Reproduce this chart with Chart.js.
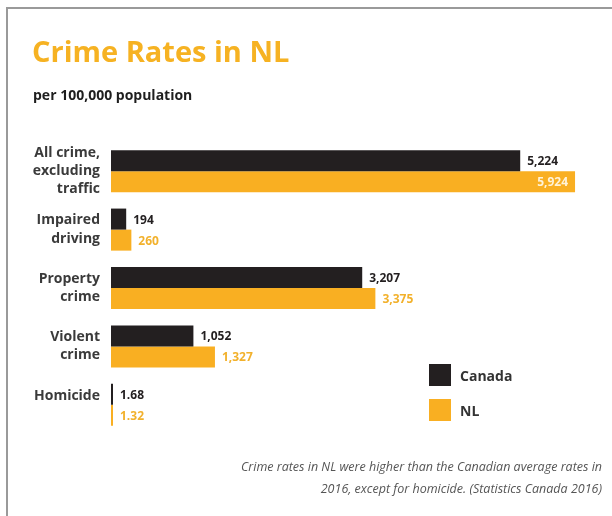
<!DOCTYPE html>
<html>
<head>
<meta charset="utf-8">
<script src="https://cdn.jsdelivr.net/npm/chart.js@4.4.1/dist/chart.umd.min.js"></script>
<style>
  body { margin: 0; background: #fff; font-family: "Open Sans", sans-serif; }
  #wrap { position: relative; width: 612px; height: 516px; overflow: hidden; }
  #frame { position: absolute; left: 6px; top: 7px; right: -4px; bottom: -4px;
           border-top: 2px solid #9a9a9a; border-left: 2px solid #9a9a9a; }
  canvas { position: absolute; left: 0; top: 0; }
  .title { position: absolute; left: 32px; top: 35px; font-size: 29px; line-height: 32px;
           font-weight: 700; color: #f6b222; }
  .subtitle { position: absolute; left: 33px; top: 86px; font-size: 14px; line-height: 18px;
              font-weight: 700; color: #1e1e1e; }
  .legend-item { position: absolute; left: 429px; display: flex; align-items: center;
                 font-size: 14px; font-weight: 700; color: #333; }
  .legend-item span.box { width: 22px; height: 22px; margin-right: 9px; }
  .note { position: absolute; right: 10px; top: 456px; text-align: right; font-size: 12.5px;
          line-height: 22px; font-style: italic; color: #555; }
</style>
</head>
<body>
<div id="wrap">
  <div id="frame"></div>
  <canvas id="crime-chart" width="612" height="516"></canvas>
  <div class="title">Crime Rates in NL</div>
  <div class="subtitle">per 100,000 population</div>
  <div id="legend"></div>
  <div class="note">Crime rates in NL were higher than the Canadian average rates in<br>2016, except for homicide. (Statistics Canada 2016)</div>
</div>
<script>
// Chart data
const categories = [
    ['All crime,', 'excluding', 'traffic'],
    ['Impaired', 'driving'],
    ['Property', 'crime'],
    ['Violent', 'crime'],
    ['Homicide', '']
];
const seriesNames = ['Canada', 'NL'];
const canadaRates = [5224, 194, 3207, 1052, 1.68];
const nlRates = [5924, 260, 3375, 1327, 1.32];

const colors = {
    Canada: '#231f20',
    NL: '#f9af22'
};
const labelColors = {
    Canada: '#231f20',
    NL: '#f2b12c'
};

// Value labels at the end of each bar
const valueLabels = {
    id: 'valueLabels',
    afterDatasetsDraw(chart) {
        const ctx = chart.ctx;
        chart.data.datasets.forEach((ds, i) => {
            const meta = chart.getDatasetMeta(i);
            meta.data.forEach((bar, j) => {
                const text = ds.data[j].toLocaleString('en-US');
                ctx.save();
                ctx.font = 'bold 12px "Open Sans", sans-serif';
                ctx.textBaseline = 'middle';
                const w = ctx.measureText(text).width;
                let x = bar.x + 7;
                let color = labelColors[ds.label];
                ctx.textAlign = 'left';
                // no room on the right: put it inside the bar
                if (x + w > chart.width - 4) {
                    x = bar.x - 7;
                    ctx.textAlign = 'right';
                    color = '#fff3d8';
                }
                ctx.fillStyle = color;
                ctx.fillText(text, x, bar.y + 1);
                ctx.restore();
            });
        });
    }
};

const ctx = document.getElementById('crime-chart').getContext('2d');
const crimeChart = new Chart(ctx, {
    type: 'bar',
    data: {
        labels: categories,
        datasets: [
            { label: seriesNames[0], data: canadaRates, backgroundColor: colors.Canada },
            { label: seriesNames[1], data: nlRates, backgroundColor: colors.NL }
        ]
    },
    options: {
        indexAxis: 'y',
        responsive: false,
        animation: false,
        maintainAspectRatio: false,
        layout: { padding: { left: 0, right: 31, top: 142, bottom: 82 } },
        datasets: {
            bar: { barPercentage: 1, categoryPercentage: 0.72, minBarLength: 2, borderWidth: 0 }
        },
        scales: {
            x: { display: false, min: 0, max: 6000 },
            y: {
                grid: { display: false, drawTicks: false },
                border: { display: false },
                ticks: {
                    padding: 11,
                    color: '#3a3a3a',
                    font: { family: '"Open Sans", sans-serif', size: 14, weight: 'bold', lineHeight: 1.3 }
                },
                afterFit(axis) { axis.width = 111; }
            }
        },
        plugins: {
            legend: { display: false },
            tooltip: { enabled: false }
        }
    },
    plugins: [valueLabels]
});

// HTML legend built from the datasets
const legendEl = document.getElementById('legend');
crimeChart.data.datasets.forEach((ds, i) => {
    const item = document.createElement('div');
    item.className = 'legend-item';
    item.style.top = (364 + i * 35) + 'px';
    item.innerHTML = '<span class="box" style="background:' + ds.backgroundColor + '"></span>' + ds.label;
    legendEl.appendChild(item);
});
</script>
</body>
</html>
